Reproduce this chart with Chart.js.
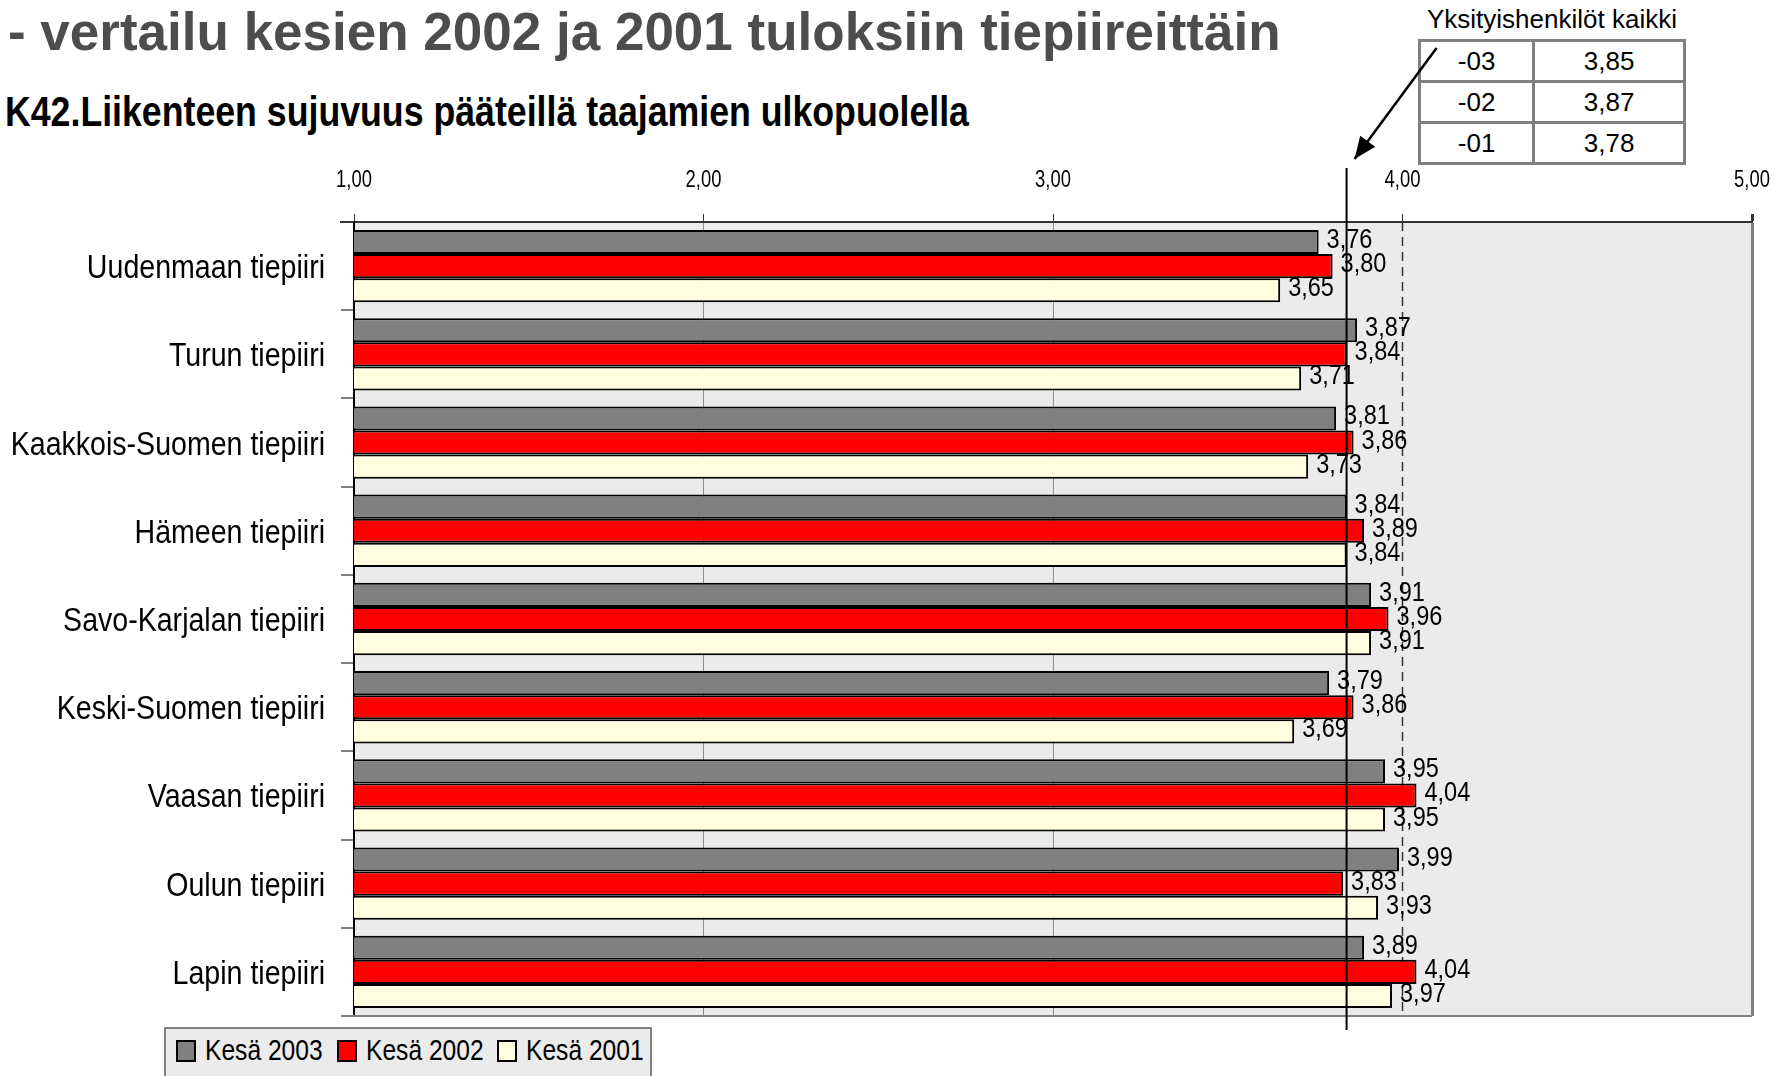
<!DOCTYPE html>
<html>
<head>
<meta charset="utf-8">
<script src="https://cdn.jsdelivr.net/npm/chart.js@4.4.0/dist/chart.umd.min.js"></script>
<style>
    html, body { margin: 0; padding: 0; background: #fff; }
    body { width: 1783px; height: 1076px; position: relative; overflow: hidden; font-family: 'Liberation Sans', Arial, sans-serif; }
    #chart { position: absolute; left: 0; top: 0; z-index: 2; pointer-events: none; }
    .main-title { position: absolute; left: 8px; top: 2px; font-weight: bold; font-size: 53px; line-height: 60px; color: #4d4d4d; white-space: nowrap; }
    .sub-title { position: absolute; left: 5px; top: 88px; font-weight: bold; font-size: 43px; line-height: 46px; color: #000; white-space: nowrap; transform: scaleX(0.83); transform-origin: left center; }
    .ref-caption { position: absolute; left: 1418px; width: 268px; top: 5px; text-align: center; font-size: 26px; line-height: 28px; color: #000; white-space: nowrap; }
    .ref-table { position: absolute; left: 1418px; top: 39px; width: 268px; height: 126px; border-collapse: collapse; background: #fff; z-index: 1; }
    .ref-table td { border: 3px solid #808080; text-align: center; font-size: 26px; color: #000; padding: 0; }
    .legend { position: absolute; left: 164px; top: 1027px; width: 488px; height: 52px; background: #ebebeb; border: 2px solid #808080; box-sizing: border-box; font-size: 30px; color: #000; z-index: 3; }
    .legend-box { position: absolute; top: 11px; width: 16px; height: 18px; border: 2px solid #000; }
    .legend-text { position: absolute; top: 4px; line-height: 34px; white-space: nowrap; transform: scaleX(0.82); transform-origin: left center; }
</style>
</head>
<body>
<canvas id="chart" width="1783" height="1076"></canvas>
<div class="main-title">- vertailu kesien 2002 ja 2001 tuloksiin tiepiireittäin</div>
<div class="sub-title">K42.Liikenteen sujuvuus pääteillä taajamien ulkopuolella</div>
<div class="ref-caption">Yksityishenkilöt kaikki</div>
<table class="ref-table" id="ref-table"></table>
<div class="legend" id="legend"></div>

<script>
// tiepiirit (ylhäältä alas)
const categories = [
    'Uudenmaan tiepiiri',
    'Turun tiepiiri',
    'Kaakkois-Suomen tiepiiri',
    'Hämeen tiepiiri',
    'Savo-Karjalan tiepiiri',
    'Keski-Suomen tiepiiri',
    'Vaasan tiepiiri',
    'Oulun tiepiiri',
    'Lapin tiepiiri'
];
const kesa2003 = [3.76, 3.87, 3.81, 3.84, 3.91, 3.79, 3.95, 3.99, 3.89];
const kesa2002 = [3.80, 3.84, 3.86, 3.89, 3.96, 3.86, 4.04, 3.83, 4.04];
const kesa2001 = [3.65, 3.71, 3.73, 3.84, 3.91, 3.69, 3.95, 3.93, 3.97];
const seriesNames = ['Kesä 2003', 'Kesä 2002', 'Kesä 2001'];
const seriesColors = ['#808080', '#ff0000', '#ffffe0'];
const xTicks = [1, 2, 3, 4, 5];

// Yksityishenkilöt kaikki -taulukko
const refYears = ['-03', '-02', '-01'];
const refValues = [3.85, 3.87, 3.78];
const refLine = 3.84;

const FONT = "'Liberation Sans', Arial, sans-serif";
const NARROW_X = 0.83;   // kapea kirjasin (Arial Narrow) jäljitellään vaakaskaalauksella

function fmt(v) {
    return Number(v).toFixed(2).replace('.', ',');
}

// kapea teksti canvasille
function narrowText(ctx, text, x, y, size, align, sx) {
    ctx.save();
    ctx.translate(x, y);
    ctx.scale(sx || NARROW_X, 1);
    ctx.font = `${size}px ${FONT}`;
    ctx.textAlign = align;
    ctx.textBaseline = 'alphabetic';
    ctx.fillStyle = '#000';
    ctx.fillText(text, 0, 0);
    ctx.restore();
}

// taulukko
const table = document.getElementById('ref-table');
refYears.forEach((y, i) => {
    const tr = document.createElement('tr');
    tr.innerHTML = `<td>${y}</td><td>${fmt(refValues[i])}</td>`;
    table.appendChild(tr);
});

// selite
const legend = document.getElementById('legend');
const legendBoxX = [10, 171, 331];
seriesNames.forEach((name, i) => {
    const box = document.createElement('span');
    box.className = 'legend-box';
    box.style.left = legendBoxX[i] + 'px';
    box.style.background = seriesColors[i];
    legend.appendChild(box);
    const txt = document.createElement('span');
    txt.className = 'legend-text';
    txt.style.left = (legendBoxX[i] + 29) + 'px';
    txt.textContent = name;
    legend.appendChild(txt);
});

// taustat, reunat ja katkoviiva 4,00 kohdalla
const framePlugin = {
    id: 'frame',
    beforeDraw(chart) {
        const { ctx, chartArea: a } = chart;
        ctx.save();
        ctx.fillStyle = '#ebebeb';
        ctx.fillRect(a.left, a.top, a.right - a.left, a.bottom - a.top);
        ctx.restore();
    },
    beforeDatasetsDraw(chart) {
        const { ctx, chartArea: a, scales } = chart;
        const x4 = scales.x.getPixelForValue(4);
        ctx.save();
        ctx.strokeStyle = '#333';
        ctx.lineWidth = 1.5;
        ctx.setLineDash([9, 6]);
        ctx.beginPath();
        ctx.moveTo(x4, a.top);
        ctx.lineTo(x4, a.bottom);
        ctx.stroke();
        ctx.setLineDash([]);
        // alareuna
        ctx.strokeStyle = '#808080';
        ctx.lineWidth = 2;
        ctx.beginPath();
        ctx.moveTo(a.left - 13, a.bottom);
        ctx.lineTo(a.right, a.bottom);
        ctx.stroke();
        // yläakseli jatkuu vasemmalle
        ctx.strokeStyle = '#333';
        ctx.beginPath();
        ctx.moveTo(a.left - 14, a.top);
        ctx.lineTo(a.left, a.top);
        ctx.stroke();
        ctx.restore();
    }
};

// akselien tekstit (kapea kirjasin)
const axisText = {
    id: 'axisText',
    afterDraw(chart) {
        const { ctx, scales, chartArea: a } = chart;
        const xs = scales.x, ys = scales.y;
        xs.ticks.forEach((t, i) => {
            narrowText(ctx, fmt(t.value), xs.getPixelForTick(i), a.top - 35, 23, 'center', 0.8);
        });
        ys.ticks.forEach((t, i) => {
            narrowText(ctx, categories[t.value], a.left - 29, ys.getPixelForTick(i) + 12, 34, 'right', 0.84);
        });
    }
};

// arvot palkkien perään
const valueLabels = {
    id: 'valueLabels',
    afterDatasetsDraw(chart) {
        const { ctx } = chart;
        chart.data.datasets.forEach((ds, di) => {
            const meta = chart.getDatasetMeta(di);
            meta.data.forEach((bar, i) => {
                narrowText(ctx, fmt(ds.data[i]), bar.x + 8, bar.y + 6, 28, 'left', 0.84);
            });
        });
    }
};

// pystyviiva ja nuoli taulukosta
const refMarker = {
    id: 'refMarker',
    afterDraw(chart) {
        const { ctx, chartArea: a, scales } = chart;
        const x = scales.x.getPixelForValue(refLine);
        ctx.save();
        ctx.strokeStyle = '#000';
        ctx.lineWidth = 2;
        ctx.beginPath();
        ctx.moveTo(x, a.top - 54);
        ctx.lineTo(x, a.bottom + 14);
        ctx.stroke();

        const tipX = x + 8, tipY = a.top - 63;
        const tailX = tipX + 82, tailY = tipY - 111;
        ctx.lineWidth = 2.5;
        ctx.beginPath();
        ctx.moveTo(tailX, tailY);
        ctx.lineTo(tipX, tipY);
        ctx.stroke();
        const ang = Math.atan2(tipY - tailY, tipX - tailX);
        const len = 24;
        ctx.beginPath();
        ctx.moveTo(tipX, tipY);
        ctx.lineTo(tipX - len * Math.cos(ang - 0.4), tipY - len * Math.sin(ang - 0.4));
        ctx.lineTo(tipX - len * Math.cos(ang + 0.4), tipY - len * Math.sin(ang + 0.4));
        ctx.closePath();
        ctx.fillStyle = '#000';
        ctx.fill();
        ctx.restore();
    }
};

const seriesData = [kesa2003, kesa2002, kesa2001];

new Chart(document.getElementById('chart').getContext('2d'), {
    type: 'bar',
    data: {
        labels: categories,
        datasets: seriesNames.map((name, i) => ({
            label: name,
            data: seriesData[i],
            backgroundColor: seriesColors[i],
            borderColor: '#000',
            borderWidth: 2,
            barPercentage: 1.0,
            categoryPercentage: 0.82
        }))
    },
    options: {
        responsive: false,
        animation: false,
        indexAxis: 'y',
        layout: { padding: { left: 0, right: 31, top: 0, bottom: 60 } },
        plugins: {
            legend: { display: false },
            tooltip: { enabled: false }
        },
        scales: {
            x: {
                position: 'top',
                min: 1,
                max: 5,
                afterFit: s => { s.height = 222; },
                afterBuildTicks: s => { s.ticks = xTicks.map(v => ({ value: v })); },
                ticks: { display: false },
                grid: {
                    color: c => {
                        const v = c.tick ? c.tick.value : 0;
                        if (v === 2 || v === 3) return '#8c8c8c';
                        if (v === 5) return '#808080';
                        return 'rgba(0,0,0,0)';
                    },
                    lineWidth: c => (c.tick && c.tick.value === 5 ? 3 : 1),
                    tickColor: '#333',
                    tickLength: 8
                },
                border: { display: true, color: '#333', width: 2 }
            },
            y: {
                afterFit: s => { s.width = 354; },
                ticks: { display: false },
                grid: {
                    drawOnChartArea: false,
                    offset: true,
                    tickLength: 13,
                    color: '#808080',
                    lineWidth: 2
                },
                border: { display: true, color: '#000', width: 2 }
            }
        }
    },
    plugins: [framePlugin, valueLabels, axisText, refMarker]
});
</script>
</body>
</html>
